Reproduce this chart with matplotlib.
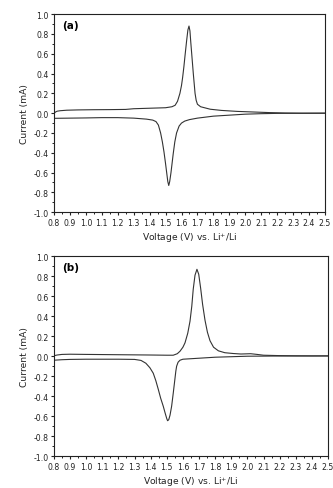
import matplotlib
matplotlib.use("Agg")
import matplotlib.pyplot as plt
from matplotlib.ticker import MultipleLocator

# Panel (a)
a_anodic_v = [0.80, 0.805, 0.81, 0.82, 0.84, 0.88, 0.95, 1.05, 1.15, 1.25, 1.30, 1.40, 1.50, 1.54, 1.56, 1.575,
              1.59, 1.60, 1.607, 1.615, 1.622, 1.632, 1.640, 1.647, 1.653, 1.658, 1.664, 1.674, 1.685, 1.692,
              1.70, 1.72, 1.78, 1.85, 1.95, 2.05, 2.15, 2.25, 2.35, 2.50]
a_anodic_i = [0.00, 0.005, 0.012, 0.02, 0.025, 0.03, 0.033, 0.035, 0.036, 0.038, 0.045, 0.05, 0.055, 0.065, 0.08, 0.12,
              0.20, 0.28, 0.36, 0.47, 0.58, 0.73, 0.84, 0.88, 0.83, 0.72, 0.60, 0.40, 0.20, 0.13,
              0.09, 0.065, 0.04, 0.028, 0.018, 0.012, 0.006, 0.002, 0.0, 0.0]
a_cathodic_v = [0.80, 0.90, 1.00, 1.10, 1.20, 1.30, 1.38, 1.42, 1.44, 1.455, 1.469, 1.48, 1.49, 1.50, 1.507,
                1.514, 1.52, 1.526, 1.534, 1.548, 1.558, 1.569, 1.585, 1.60, 1.62, 1.65, 1.70, 1.80, 1.90,
                2.00, 2.10, 2.20, 2.50]
a_cathodic_i = [-0.052, -0.05, -0.048, -0.045, -0.045, -0.05, -0.06, -0.07, -0.085, -0.12, -0.20, -0.29, -0.39, -0.51, -0.60,
                -0.69, -0.73, -0.69, -0.60, -0.41, -0.29, -0.20, -0.13, -0.10, -0.08, -0.065, -0.05, -0.03, -0.02,
                -0.01, -0.005, -0.002, 0.0]

# Panel (b)
b_anodic_v = [0.80, 0.82, 0.85, 0.90, 1.00, 1.20, 1.40, 1.50, 1.54, 1.565, 1.582, 1.60, 1.613, 1.63, 1.644,
              1.655, 1.664, 1.675, 1.687, 1.698, 1.71, 1.722, 1.737, 1.752, 1.768, 1.79, 1.82, 1.86, 1.912,
              1.96, 2.02, 2.06, 2.10, 2.20, 2.30, 2.40, 2.50]
b_anodic_i = [0.005, 0.012, 0.018, 0.02, 0.018, 0.015, 0.012, 0.01, 0.01, 0.025, 0.05, 0.09, 0.134, 0.23, 0.35,
              0.50, 0.67, 0.81, 0.869, 0.82, 0.68, 0.52, 0.36, 0.24, 0.155, 0.09, 0.054, 0.035, 0.027,
              0.022, 0.025, 0.018, 0.01, 0.006, 0.004, 0.003, 0.003]
b_cathodic_v = [0.80, 0.85, 0.90, 1.00, 1.10, 1.20, 1.30, 1.34, 1.37, 1.395, 1.416, 1.432, 1.447, 1.462, 1.478,
                1.49, 1.50, 1.505, 1.512, 1.52, 1.53, 1.54, 1.55, 1.556, 1.561, 1.57, 1.582, 1.60, 1.65,
                1.70, 1.75, 1.80, 1.90, 2.00, 2.20, 2.50]
b_cathodic_i = [-0.04, -0.035, -0.032, -0.03, -0.03, -0.03, -0.032, -0.042, -0.07, -0.115, -0.17, -0.245, -0.33, -0.42, -0.50,
                -0.57, -0.625, -0.645, -0.635, -0.59, -0.50, -0.37, -0.233, -0.15, -0.10, -0.06, -0.04, -0.03, -0.025,
                -0.02, -0.015, -0.01, -0.005, 0.0, 0.002, 0.003]

panels = [
    ("(a)", a_anodic_v, a_anodic_i, a_cathodic_v, a_cathodic_i, [0.162, 0.564, 0.814, 0.405]),
    ("(b)", b_anodic_v, b_anodic_i, b_cathodic_v, b_cathodic_i, [0.162, 0.065, 0.823, 0.409]),
]

x_ticks = [round(0.8 + 0.1 * k, 1) for k in range(18)]
y_ticks = [round(-1.0 + 0.2 * k, 1) for k in range(11)]

fig = plt.figure(figsize=(3.33, 4.89), dpi=100)
fig.patch.set_facecolor("white")
lc = "#333333"
for label, av, ai, cv, ci, rect in panels:
    ax = fig.add_axes(rect)
    ax.plot(av, ai, color=lc, lw=0.8)
    ax.plot(cv, ci, color=lc, lw=0.8)
    ax.set_xlim(0.8, 2.5)
    ax.set_ylim(-1.0, 1.0)
    ax.set_xticks(x_ticks)
    ax.set_xticklabels([f"{t:.1f}" for t in x_ticks])
    ax.set_yticks(y_ticks)
    ax.set_yticklabels([f"{t:.1f}" for t in y_ticks])
    ax.xaxis.set_minor_locator(MultipleLocator(0.05))
    ax.yaxis.set_minor_locator(MultipleLocator(0.1))
    ax.tick_params(axis="both", which="major", direction="out", length=2.5, width=0.8,
                   labelsize=5.6, pad=1.5, colors="#222222")
    ax.tick_params(axis="both", which="minor", direction="out", length=1.5, width=0.6)
    for s in ax.spines.values():
        s.set_linewidth(0.8)
        s.set_color("#222222")
    ax.set_xlabel("Voltage (V) vs. Li$^{+}$/Li", fontsize=6.6, labelpad=2.5, color="#222222")
    ax.set_ylabel("Current (mA)", fontsize=6.6, labelpad=3, color="#222222")
    ax.text(0.03, 0.97, label, transform=ax.transAxes, fontsize=7.5, fontweight="bold",
            va="top", ha="left")

fig.savefig("out.png", dpi=100)
